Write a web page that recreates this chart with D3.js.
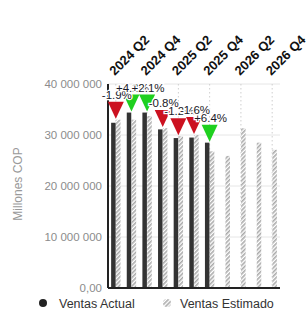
<!DOCTYPE html>
<html>
<head>
<meta charset="utf-8">
<script src="https://cdn.jsdelivr.net/npm/d3@7"></script>
<style>
body { margin: 0; background: #fff; }
text { font-family: "Liberation Sans", Arial, sans-serif; }
</style>
</head>
<body>
<svg id="chart"></svg>
<script>
var categories = ["2024 Q2","2024 Q3","2024 Q4","2025 Q1","2025 Q2","2025 Q3","2025 Q4","2026 Q1","2026 Q2","2026 Q3","2026 Q4"]
var shownTicks = ["2024 Q2","2024 Q4","2025 Q2","2025 Q4","2026 Q2","2026 Q4"]
var actual = [32400000, 34400000, 34400000, 31100000, 29400000, 29500000, 28500000]
var estimated = [33000000, 33000000, 33700000, 31350000, 29750000, 30000000, 26800000, 25900000, 31300000, 28500000, 27100000]
var variance = ["-1.9%","+4.2%","+2.1%","-0.8%","-1.2%","-1.6%","+6.4%"]
var yTicks = [0, 10000000, 20000000, 30000000, 40000000]

var screen = {width:308, height:314}
var margins = {left:108, right:28, top:84, bottom:26}
var graph = {
    width: screen.width - margins.left - margins.right,
    height: screen.height - margins.top - margins.bottom
}

var svg = d3.select("#chart")
    .attr("width", screen.width)
    .attr("height", screen.height)

// hatch pattern for estimated bars
var defs = svg.append("defs")
var pat = defs.append("pattern")
    .attr("id", "hatch")
    .attr("patternUnits", "userSpaceOnUse")
    .attr("width", 3)
    .attr("height", 3)
    .attr("patternTransform", "rotate(45)")
pat.append("rect").attr("width", 3).attr("height", 3).attr("fill", "#fff")
pat.append("rect").attr("width", 1.6).attr("height", 3).attr("fill", "#aaa")

var xScale = d3.scaleBand()
    .domain(categories)
    .range([0, graph.width])
    .paddingInner(0.4)
    .paddingOuter(0.2)

var subScale = d3.scaleBand()
    .domain(["actual", "estimated"])
    .range([0, xScale.bandwidth()])
    .paddingInner(0.08)

var yScale = d3.scaleLinear()
    .domain([0, 40000000])
    .range([graph.height, 0])

var plot = svg.append("g")
    .attr("transform", "translate(" + margins.left + "," + margins.top + ")")

var center = function(c) { return xScale(c) + xScale.bandwidth() / 2 }

// gridlines
plot.append("g")
    .selectAll("line")
    .data(yTicks)
    .enter()
    .append("line")
    .attr("x1", 0)
    .attr("x2", graph.width)
    .attr("y1", function(d) { return yScale(d) })
    .attr("y2", function(d) { return yScale(d) })
    .attr("stroke", "#e6e6e6")

plot.append("g")
    .selectAll("line")
    .data(shownTicks)
    .enter()
    .append("line")
    .attr("x1", center)
    .attr("x2", center)
    .attr("y1", 0)
    .attr("y2", graph.height)
    .attr("stroke", "#cfcfcf")
    .attr("stroke-dasharray", "1.5,2.5")

// bars
plot.append("g")
    .selectAll("rect")
    .data(estimated)
    .enter()
    .append("rect")
    .attr("x", function(d, i) { return xScale(categories[i]) + subScale("estimated") })
    .attr("y", function(d) { return yScale(d) })
    .attr("width", subScale.bandwidth())
    .attr("height", function(d) { return graph.height - yScale(d) })
    .attr("fill", "url(#hatch)")

plot.append("g")
    .selectAll("rect")
    .data(actual)
    .enter()
    .append("rect")
    .attr("x", function(d, i) { return xScale(categories[i]) + subScale("actual") })
    .attr("y", function(d) { return yScale(d) })
    .attr("width", subScale.bandwidth())
    .attr("height", function(d) { return graph.height - yScale(d) })
    .attr("fill", "#333")

// axes
var fmt = function(d) {
    if (d == 0) return "0,00"
    return d3.format(",")(d).replace(/,/g, " ")
}
var yAxis = plot.append("g")
    .call(d3.axisLeft(yScale).tickValues(yTicks).tickSize(0).tickPadding(6).tickFormat(fmt))
yAxis.select(".domain").remove()
yAxis.selectAll("text")
    .attr("fill", "#8c8c8c")
    .style("font-size", "11.5px")
    .style("font-family", "Liberation Sans, Arial, sans-serif")

plot.append("line")
    .attr("x1", 0).attr("x2", 0)
    .attr("y1", 0).attr("y2", graph.height)
    .attr("stroke", "#222").attr("stroke-width", 2)
plot.append("line")
    .attr("x1", 0).attr("x2", graph.width)
    .attr("y1", graph.height).attr("y2", graph.height)
    .attr("stroke", "#222").attr("stroke-width", 2)

var xAxis = plot.append("g")
    .call(d3.axisTop(xScale).tickValues(shownTicks).tickSize(0).tickPadding(0))
xAxis.select(".domain").remove()
xAxis.selectAll("text")
    .attr("text-anchor", "start")
    .attr("dy", 0)
    .attr("y", 0)
    .attr("transform", "translate(-1,-8) rotate(-45)")
    .attr("fill", "#111")
    .style("font-size", "13px")
    .style("font-weight", "bold")
    .style("font-family", "Liberation Sans, Arial, sans-serif")

// variance markers
var tipY = function(d, i) { return Math.min(yScale(d), yScale(estimated[i])) - 1 }
var markers = plot.append("g")
markers.selectAll("path")
    .data(actual)
    .enter()
    .append("path")
    .attr("d", function(d, i) {
        var cx = center(categories[i]), ty = tipY(d, i)
        return "M" + (cx - 8) + "," + (ty - 17) + "L" + (cx + 8) + "," + (ty - 17) + "L" + cx + "," + ty + "Z"
    })
    .attr("fill", function(d, i) { return d >= estimated[i] ? "#1fd01f" : "#cc1120" })

markers.selectAll("text")
    .data(actual)
    .enter()
    .append("text")
    .text(function(d, i) { return variance[i] })
    .attr("x", function(d, i) { return center(categories[i]) + 1 })
    .attr("y", function(d, i) { return tipY(d, i) - 20 })
    .attr("text-anchor", "middle")
    .attr("fill", "#1a1a28")
    .attr("stroke", "#fff")
    .attr("stroke-width", 2.5)
    .attr("paint-order", "stroke")
    .style("font-size", "11.5px")

// y title
svg.append("g")
    .attr("transform", "translate(22," + (margins.top + graph.height / 2 - 2) + ")")
    .append("text")
    .text("Millones COP")
    .attr("transform", "rotate(270)")
    .attr("text-anchor", "middle")
    .attr("fill", "#999")
    .style("font-size", "12px")

// legend
var legend = svg.append("g")
legend.append("circle").attr("cx", 43).attr("cy", 303).attr("r", 4).attr("fill", "#222")
legend.append("text").text("Ventas Actual").attr("x", 59).attr("y", 307.5)
    .attr("fill", "#333").style("font-size", "12.5px")
legend.append("circle").attr("cx", 167).attr("cy", 303).attr("r", 4).attr("fill", "url(#hatch)")
legend.append("text").text("Ventas Estimado").attr("x", 180).attr("y", 307.5)
    .attr("fill", "#333").style("font-size", "12.5px")
</script>
</body>
</html>
